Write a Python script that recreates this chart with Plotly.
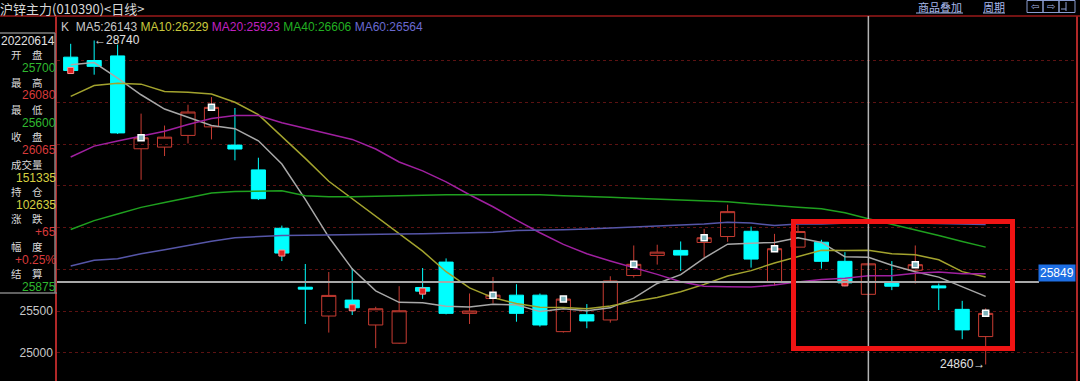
import plotly.graph_objects as go

# ---------------- data ----------------
idx = list(range(40))
opens = [28540, 28500, 28555, 27443, 27463, 27603, 27705, 27487, 27190, 26491,
         25785, 25440, 25631, 25333, 25115, 25782, 26086, 25472, 25651, 25690,
         25690, 25253, 25456, 25393, 25925, 26166, 26226, 26321, 26392, 26455,
         25845, 26265, 26324, 26095, 25700, 25845, 25988, 25801, 25520, 25194]
highs = [28700, 28740, 28690, 27864, 27721, 27971, 28062, 27931, 27336, 26523,
         26063, 25967, 26015, 25551, 25797, 26015, 26130, 25710, 25908, 25821,
         25710, 25670, 25583, 25916, 26285, 26294, 26333, 26484, 26773, 26511,
         26424, 26532, 26353, 26205, 26080, 26098, 26285, 25829, 25622, 25532]
lows = [28370, 28330, 27620, 27071, 27356, 27507, 27555, 27305, 26829, 26098,
        25345, 25242, 25452, 25056, 25110, 25646, 25460, 25345, 25591, 25372,
        25313, 25242, 25294, 25361, 25901, 26056, 25979, 26139, 26329, 26020,
        25806, 26260, 26008, 25797, 25600, 25750, 25829, 25512, 25163, 24860]
closes = [28380, 28430, 27633, 27574, 27582, 27883, 27939, 27440, 26845, 26194,
          25762, 25687, 25539, 25527, 25503, 25738, 25472, 25500, 25690, 25472,
          25333, 25643, 25381, 25860, 26059, 26205, 26170, 26377, 26690, 26122,
          26246, 26452, 26095, 25837, 26065, 25797, 26055, 25777, 25274, 25472]

ma5 = [28450, 28475, 28288, 28090, 27919, 27820, 27722, 27684, 27538, 27260,
       26836, 26386, 26005, 25742, 25604, 25599, 25556, 25548, 25581, 25574,
       25493, 25528, 25504, 25538, 25655, 25830, 25935, 26134, 26300, 26313,
       26321, 26377, 26321, 26150, 26143, 26049, 25970, 25906, 25794, 25675]
ma10 = [28070, 28201, 28229, 28217, 28130, 28121, 28098, 28000, 27851, 27590,
        27328, 27054, 26845, 26640, 26432, 26217, 25971, 25777, 25661, 25589,
        25546, 25542, 25526, 25559, 25615, 25662, 25731, 25819, 25919, 25984,
        26075, 26156, 26228, 26225, 26229, 26185, 26174, 26114, 25972, 25907]
ma20 = [27344, 27475, 27535, 27594, 27654, 27733, 27805, 27840, 27840, 27755,
        27689, 27618, 27555, 27440, 27285, 27178, 27047, 26892, 26749, 26589,
        26437, 26298, 26185, 26100, 26023, 25939, 25851, 25798, 25790, 25787,
        25811, 25849, 25877, 25892, 25923, 25923, 25952, 25966, 25946, 25946]
ma40 = [26476, 26583, 26662, 26741, 26800, 26860, 26912, 26931, 26940, 26940,
        26880, 26868, 26868, 26874, 26880, 26889, 26892, 26892, 26892, 26898,
        26892, 26880, 26874, 26862, 26850, 26839, 26833, 26821, 26809, 26785,
        26761, 26744, 26726, 26678, 26606, 26541, 26476, 26404, 26333, 26265]
ma60 = [26039, 26107, 26127, 26186, 26234, 26285, 26336, 26377, 26392, 26404,
        26408, 26413, 26416, 26418, 26422, 26424, 26428, 26436, 26443, 26464,
        26466, 26472, 26482, 26493, 26509, 26523, 26532, 26541, 26562, 26555,
        26523, 26543, 26543, 26553, 26564, 26559, 26553, 26547, 26541, 26535]

white_sig = [3, 6, 18, 21, 24, 27, 30, 36, 39]
red_sig = [0, 9, 12, 15, 33]

cursor_idx = 34
cursor_price = 25849
high_idx, high_val = 1, 28740
low_idx, low_val = 39, 24860

info_labels = ["开　盘", "最　高", "最　低", "收　盘", "成交量", "持　仓", "涨　跌", "幅　度", "结　算"]
info_values = ["25700", "26080", "25600", "26065", "151335", "102635", "+65", "+0.25%", "25875"]
info_colors = ["#2fb82f", "#d83a3a", "#2fb82f", "#d83a3a", "#d8d040", "#d8d040", "#d83a3a", "#d83a3a", "#2fb82f"]
info_date = "20220614"

ma_names = ["MA5", "MA10", "MA20", "MA40", "MA60"]
ma_header_vals = [26143, 26229, 25923, 26606, 26564]
ma_text_colors = ["#c8c8c8", "#c8c83c", "#c020c0", "#22b022", "#6a6ad0"]
ma_line_colors = ["#a8a8a8", "#a3a32e", "#a020a0", "#1fa01f", "#5656a8"]

ytick_vals = [25000, 25500, 26000, 26500, 27000, 27500, 28000, 28500]
ytick_text = ["25000", "25500", "", "", "", "", "", ""]

# ---------------- layout geometry ----------------
W, H = 1080, 381
L, R, T, B = 57, 4, 16, 0
PW, PH = W - L - R, H - T - B


def ax(px):
    return (px - L) / PW


def ay(py):
    return (H - py) / PH


NUM = "Liberation Sans"
CJK = "Noto Sans CJK SC"

fig = go.Figure()

fig.add_trace(go.Candlestick(
    x=idx, open=opens, high=highs, low=lows, close=closes,
    increasing=dict(line=dict(color="#c83c32", width=1), fillcolor="rgba(0,0,0,0)"),
    decreasing=dict(line=dict(color="#00ffff", width=1), fillcolor="#00ffff"),
    whiskerwidth=0, showlegend=False, hoverinfo="skip"))

for name, vals, col in zip(ma_names, [ma5, ma10, ma20, ma40, ma60], ma_line_colors):
    fig.add_trace(go.Scatter(x=idx, y=vals, mode="lines", name=name,
                             line=dict(color=col, width=1.5), showlegend=False,
                             hoverinfo="skip"))

fig.add_trace(go.Scatter(x=white_sig, y=[closes[i] for i in white_sig], mode="markers",
                         marker=dict(symbol="square", size=6, color="#7fb4bc",
                                     line=dict(color="#ffffff", width=1.5)),
                         showlegend=False, hoverinfo="skip"))
fig.add_trace(go.Scatter(x=red_sig, y=[closes[i] for i in red_sig], mode="markers",
                         marker=dict(symbol="square", size=6, color="#e02020",
                                     line=dict(color="#ff9090", width=1)),
                         showlegend=False, hoverinfo="skip"))

shapes = []
# title bar separator
shapes.append(dict(type="line", xref="paper", yref="paper", x0=ax(0), x1=ax(W), y0=ay(16), y1=ay(16),
                   line=dict(color="#9a1a1a", width=1.5)))
# left info panel border
shapes.append(dict(type="line", xref="paper", yref="paper", x0=ax(0), x1=ax(55), y0=ay(33), y1=ay(33),
                   line=dict(color="#808080", width=1.5)))
shapes.append(dict(type="line", xref="paper", yref="paper", x0=ax(55), x1=ax(55), y0=ay(33), y1=ay(293),
                   line=dict(color="#808080", width=1.5)))
shapes.append(dict(type="line", xref="paper", yref="paper", x0=ax(0), x1=ax(57), y0=ay(293), y1=ay(293),
                   line=dict(color="#808080", width=1.5)))
# cursor crosshair
shapes.append(dict(type="line", xref="x", yref="paper", x0=cursor_idx, x1=cursor_idx, y0=0, y1=1,
                   line=dict(color="#b4b4b4", width=1.5)))
shapes.append(dict(type="line", xref="paper", yref="y", x0=0, x1=ax(1039), y0=cursor_price, y1=cursor_price,
                   line=dict(color="#a8a8a8", width=2)))
# highlight rectangle
shapes.append(dict(type="rect", xref="paper", yref="paper", x0=ax(793.5), x1=ax(1012.5),
                   y0=ay(348.5), y1=ay(221.5), line=dict(color="#f01414", width=5)))
# top-right underlines and icon boxes
for a, b in [(916, 963), (983, 1005)]:
    shapes.append(dict(type="line", xref="paper", yref="paper", x0=ax(a), x1=ax(b), y0=ay(13), y1=ay(13),
                       line=dict(color="#9fb2e6", width=1)))
for a, b in [(1027, 1043), (1043, 1059), (1059, 1075)]:
    shapes.append(dict(type="rect", xref="paper", yref="paper", x0=ax(a), x1=ax(b), y0=ay(12.5), y1=ay(0.5),
                       line=dict(color="#8a9cd0", width=1)))
shapes.append(dict(type="line", xref="paper", yref="paper", x0=ax(1066), x1=ax(1066), y0=ay(11), y1=ay(2),
                   line=dict(color="#8a9cd0", width=1)))
shapes.append(dict(type="line", xref="paper", yref="paper", x0=ax(1061), x1=ax(1066), y0=ay(9), y1=ay(9),
                   line=dict(color="#8a9cd0", width=1)))

ann = []
ann.append(dict(text="沪锌主力(010390)&lt;日线&gt;", xref="paper", yref="paper", x=ax(-2), y=ay(8),
                xanchor="left", yanchor="middle", showarrow=False,
                font=dict(family=CJK, size=13, color="#d8d8d8")))
hdr = '<span style="color:#c8c8c8">K</span>  ' + " ".join(
    f'<span style="color:{c}">{n}:{v}</span>' for n, v, c in zip(ma_names, ma_header_vals, ma_text_colors))
ann.append(dict(text=hdr, xref="paper", yref="paper", x=ax(59), y=ay(26.5), xanchor="left",
                yanchor="middle", showarrow=False, font=dict(family=NUM, size=12, color="#c8c8c8")))
ann.append(dict(text="商品叠加", xref="paper", yref="paper", x=ax(939.5), y=ay(7), xanchor="center",
                yanchor="middle", showarrow=False, borderpad=0,
                font=dict(family=CJK, size=11, color="#a8b8ea")))
ann.append(dict(text="周期", xref="paper", yref="paper", x=ax(994), y=ay(7), xanchor="center",
                yanchor="middle", showarrow=False, borderpad=0,
                font=dict(family=CJK, size=11, color="#a8b8ea")))
for cx, t in [(1035, "⇦"), (1051, "⇨")]:
    ann.append(dict(text=t, xref="paper", yref="paper", x=ax(cx), y=ay(6.5), xanchor="center",
                    yanchor="middle", showarrow=False, borderpad=0,
                    font=dict(family="DejaVu Sans", size=10, color="#a8b8ea")))

ann.append(dict(text=info_date, xref="paper", yref="paper", x=ax(28), y=ay(41), xanchor="center",
                yanchor="middle", showarrow=False, borderpad=0,
                font=dict(family=NUM, size=12, color="#e0e0e0")))
y0 = 54.6
for k, (lab, val, col) in enumerate(zip(info_labels, info_values, info_colors)):
    yl = y0 + k * 27.4
    ann.append(dict(text=lab, xref="paper", yref="paper", x=ax(27), y=ay(yl), xanchor="center",
                    yanchor="middle", showarrow=False, borderpad=0,
                    font=dict(family=CJK, size=10.5, color="#d8d8d8")))
    ann.append(dict(text=val, xref="paper", yref="paper", x=ax(57), y=ay(yl + 13.4), xanchor="right",
                    yanchor="middle", showarrow=False, borderpad=0,
                    font=dict(family=NUM, size=12, color=col)))

ann.append(dict(text="←" + str(high_val), x=high_idx, y=high_val, xref="x", yref="y",
                xanchor="left", yanchor="middle", xshift=-2, showarrow=False,
                font=dict(family=NUM, size=12, color="#e0e0e0")))
ann.append(dict(text=str(low_val) + "→", x=low_idx, y=low_val, xref="x", yref="y",
                xanchor="right", yanchor="middle", xshift=1, showarrow=False,
                font=dict(family=NUM, size=12, color="#e0e0e0")))
ann.append(dict(text=str(cursor_price), x=1, y=cursor_price, xref="paper", yref="y",
                xanchor="right", yanchor="bottom", showarrow=False, bgcolor="#1e6fe4",
                borderpad=1, font=dict(family=NUM, size=12, color="#ffffff")))

fig.update_layout(
    width=W, height=H, margin=dict(l=L, r=R, t=T, b=B),
    paper_bgcolor="#000000", plot_bgcolor="#000000",
    shapes=shapes, annotations=ann, boxgap=0.14,
    xaxis=dict(range=[-0.584, 42.85], showgrid=False, zeroline=False, showticklabels=False,
               ticks="", rangeslider=dict(visible=False), fixedrange=True),
    yaxis=dict(range=[24662, 29033], tickvals=ytick_vals, ticktext=ytick_text,
               showgrid=True, gridcolor="#5c1212", griddash="dot", gridwidth=1,
               zeroline=False, showline=True, mirror=True, linecolor="#b02828", linewidth=1.5,
               ticks="", tickfont=dict(family=NUM, size=12, color="#c8c8c8"), fixedrange=True),
    showlegend=False,
)

fig.write_html("out.html")
